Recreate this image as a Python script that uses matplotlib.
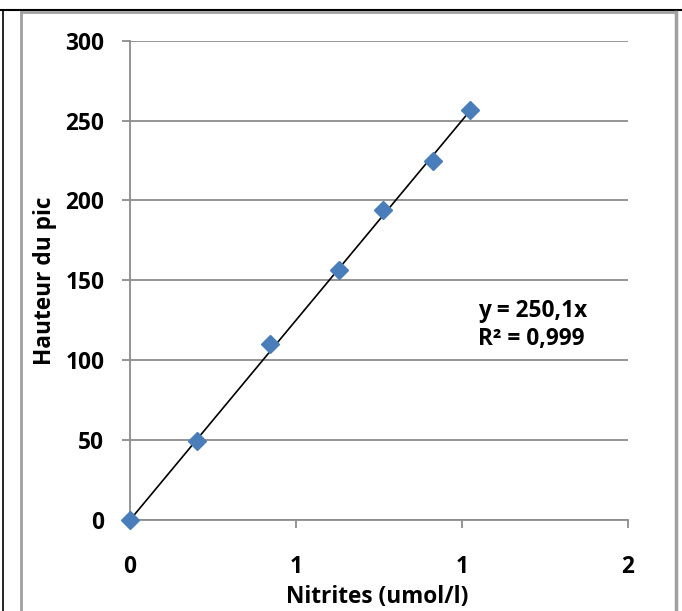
import matplotlib
matplotlib.use("Agg")
import matplotlib.pyplot as plt
from matplotlib.lines import Line2D
from matplotlib.ticker import FuncFormatter

# Data
nitrites = [0.0, 0.203, 0.422, 0.630, 0.761, 0.912, 1.024]
hauteur = [0.0, 49.4, 110.4, 156.7, 193.8, 224.6, 256.9]
slope = 250.1
x_ticks = [0.0, 0.5, 1.0, 1.5]
y_ticks = [0, 50, 100, 150, 200, 250, 300]
eq_text = "y = 250,1x"
r2_text = "R² = 0,999"
x_label = "Nitrites (umol/l)"
y_label = "Hauteur du pic"

FS = 16.3
plt.rcParams['font.family'] = ['Open Sans', 'DejaVu Sans']
plt.rcParams['font.weight'] = 'bold'

fig = plt.figure(figsize=(6.82, 6.11), dpi=100)
fig.patch.set_facecolor('white')

# outer frame decorations
fig.add_artist(Line2D([0, 1], [1 - 10/611, 1 - 10/611], color='black', lw=1.5, transform=fig.transFigure))
fig.add_artist(Line2D([3/682, 3/682], [0, 1 - 10/611], color='black', lw=1.2, transform=fig.transFigure))
fig.add_artist(Line2D([21/682, 21/682], [0, 1 - 12/611], color='#A0A0A0', lw=2, transform=fig.transFigure))
fig.add_artist(Line2D([21/682, 676/682], [1 - 12/611, 1 - 12/611], color='#A0A0A0', lw=2, transform=fig.transFigure))
fig.add_artist(Line2D([676/682, 676/682], [0, 1 - 12/611], color='#A0A0A0', lw=2.5, transform=fig.transFigure))

ax = fig.add_axes([130/682, 91/611, 498/682, 479.3/611])
ax.set_xlim(0, 1.5)
ax.set_ylim(0, 300)

ax.yaxis.grid(True, color='#8C8C8C', lw=1.3)
ax.set_axisbelow(True)
for s in ['top', 'right']:
    ax.spines[s].set_visible(False)
for s in ['left', 'bottom']:
    ax.spines[s].set_color('#8C8C8C')
    ax.spines[s].set_linewidth(1.3)

ax.set_xticks(x_ticks)
ax.set_yticks(y_ticks)
ax.xaxis.set_major_formatter(FuncFormatter(lambda v, p: "%d" % int(v + 0.5)))
ax.tick_params(axis='both', colors='#8C8C8C', labelcolor='black', labelsize=FS, width=1.3, length=6, direction='out')
ax.tick_params(axis='x', pad=19)
ax.tick_params(axis='y', pad=12.5)
for lab in ax.get_xticklabels() + ax.get_yticklabels():
    lab.set_fontweight('bold')

# trend line
xs = [0, max(nitrites)]
ax.plot(xs, [slope * v for v in xs], color='black', lw=1.2, zorder=3)
ax.plot(nitrites, hauteur, linestyle='none', marker='D', ms=9.5, color='#4A7EBB', mec='#4A7EBB', zorder=4, clip_on=False)

ax.text(1.048, 127.1, eq_text, fontsize=FS, fontweight='bold', va='baseline', ha='left')
ax.text(1.048, 109.4, r2_text, fontsize=FS, fontweight='bold', va='baseline', ha='left')

fig.text(377/682, 1.5/611, x_label, fontsize=FS, fontweight='bold', ha='center', va='bottom')
fig.text(45/682, 1 - 281/611, y_label, fontsize=FS, fontweight='bold', ha='center', va='center', rotation=90)

fig.savefig('out.png', dpi=100)
